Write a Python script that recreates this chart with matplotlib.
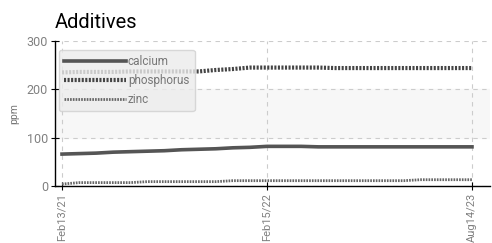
import matplotlib.pyplot as plt
import numpy as np

plt.rcParams['font.family'] = ['Roboto', 'DejaVu Sans']

# samples (index axis, labelled at three dates)
tick_pos = [0, 12, 24]
tick_labels = ['Feb13/21', 'Feb15/22', 'Aug14/23']

calcium = [66, 67, 68, 70, 71, 72, 73, 75, 76, 77, 79, 80, 82,
           82, 82, 81, 81, 81, 81, 81, 81, 81, 81, 81, 81]
phosphorus = [235, 236, 236, 236, 237, 237, 237, 237, 237, 240, 242, 245, 245,
              245, 245, 245, 244, 244, 244, 244, 244, 244, 244, 244, 244]
zinc = [4, 7, 7, 7, 7, 9, 9, 9, 9, 9, 11, 11, 11,
        11, 11, 11, 11, 11, 11, 11, 11, 13, 13, 13, 13]
x = np.arange(len(calcium))

fig = plt.figure(figsize=(4.92, 2.43), dpi=100)
ax = fig.add_axes([0.1118, 0.2346, 0.884, 0.5967])

ax.axhspan(100, 200, color='#f7f7f7', zorder=0)
ax.plot(x, calcium, color='#555555', lw=2.6, label='calcium', zorder=3)
ax.plot(x, phosphorus, color='#444444', lw=3, ls=(0, (0.5, 0.35)),
        label='phosphorus', zorder=3)
ax.plot(x, zinc, color='#666666', lw=2, ls=(0, (0.6, 0.4)), label='zinc', zorder=3)

ax.set_ylim(0, 300)
ax.set_xlim(-0.41, 25.05)
ax.set_yticks([0, 100, 200, 300])
ax.set_xticks(tick_pos)
ax.set_xticklabels(tick_labels, rotation=90)
ax.grid(True, color='#cccccc', ls=(0, (4, 4)), lw=0.8)
ax.set_axisbelow(True)

for s in ['top', 'right']:
    ax.spines[s].set_visible(False)
for s in ['left', 'bottom']:
    ax.spines[s].set_color('black')
    ax.spines[s].set_linewidth(1)
ax.tick_params(direction='inout', length=6, colors='black', labelcolor='#808080',
               labelsize=9, pad=2)
ax.tick_params(axis='x', labelsize=8)

ax.set_ylabel('ppm', color='#777777', fontsize=7.5, labelpad=5)
ax.set_title('Additives', loc='left', fontsize=14.5, x=0.0, pad=9)

leg = ax.legend(loc='upper left', bbox_to_anchor=(0.009, 0.938), frameon=True,
                fontsize=8.5, handlelength=5.2, handletextpad=0.2, labelspacing=0.5,
                borderpad=0.45, borderaxespad=0, fancybox=True, facecolor='#ececec',
                edgecolor='#d0d0d0', framealpha=0.8)
for t in leg.get_texts():
    t.set_color('#777777')

fig.savefig('out.png', dpi=100)
